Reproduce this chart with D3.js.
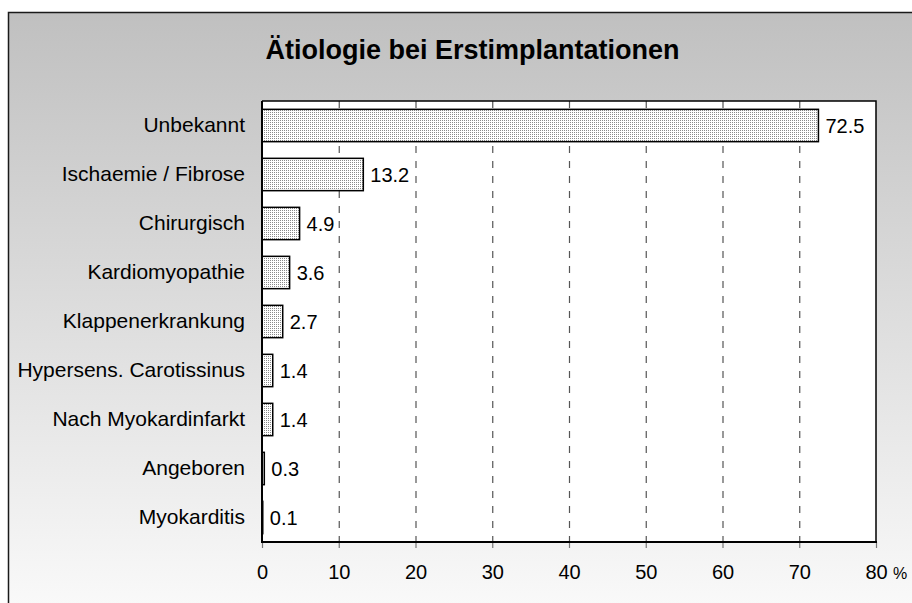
<!DOCTYPE html>
<html><head><meta charset="utf-8">
<script src="https://cdn.jsdelivr.net/npm/d3@7"></script>
<style>html,body{margin:0;padding:0;background:#fff;}svg{display:block;font-family:"Liberation Sans",Arial,sans-serif;}</style>
</head><body>
<script>
const categories = ["Unbekannt","Ischaemie / Fibrose","Chirurgisch","Kardiomyopathie","Klappenerkrankung","Hypersens. Carotissinus","Nach Myokardinfarkt","Angeboren","Myokarditis"];
const values = [72.5,13.2,4.9,3.6,2.7,1.4,1.4,0.3,0.1];
const valueLabels = ["72.5","13.2","4.9","3.6","2.7","1.4","1.4","0.3","0.1"];
const xTicks = [0,10,20,30,40,50,60,70,80];
const title = "Ätiologie bei Erstimplantationen";

const W = 912, H = 603;
const svg = d3.select("body").append("svg").attr("width", W).attr("height", H);
const defs = svg.append("defs");
const grad = defs.append("linearGradient").attr("id","bg").attr("x1",0).attr("y1",0).attr("x2",0).attr("y2",1);
grad.append("stop").attr("offset","0%").attr("stop-color","#c0c0c0");
grad.append("stop").attr("offset","100%").attr("stop-color","#fbfbfb");
const pat = defs.append("pattern").attr("id","dots").attr("width",2).attr("height",2).attr("patternUnits","userSpaceOnUse");
pat.append("rect").attr("width",2).attr("height",2).attr("fill","#ffffff");
pat.append("rect").attr("width",1).attr("height",1).attr("fill","#8a8a8a");

svg.append("rect").attr("x",0).attr("y",0).attr("width",W).attr("height",H).attr("fill","#fff");
svg.append("rect").attr("x",8.5).attr("y",12.5).attr("width",W+10).attr("height",H+10)
  .attr("fill","url(#bg)").attr("stroke","#1a1a1a").attr("stroke-width",1.5);

svg.append("text").attr("x",472.5).attr("y",59).attr("text-anchor","middle")
  .attr("font-size",27).attr("font-weight","bold").attr("fill","#000").text(title);

const L = 262, R = 876, T = 101, B = 542;
const x = d3.scaleLinear().domain([0,80]).range([L,R]);
const y = d3.scaleBand().domain(categories).range([T,B]).paddingInner(0.34).paddingOuter(0.17);

svg.append("rect").attr("x",L).attr("y",T).attr("width",R-L).attr("height",B-T).attr("fill","#fff");

// gridlines
svg.append("g").selectAll("line").data(xTicks.filter(d=>d>0&&d<80)).join("line")
  .attr("x1",d=>x(d)+0.5).attr("x2",d=>x(d)+0.5).attr("y1",T).attr("y2",B)
  .attr("stroke","#555").attr("stroke-width",1.2).attr("stroke-dasharray","7,8");

// plot border top/right
svg.append("path").attr("d",`M${L},${T}H${R}V${B}`).attr("fill","none").attr("stroke","#000").attr("stroke-width",1.5);

// bars
svg.append("g").selectAll("rect").data(values).join("rect")
  .attr("x",x(0)).attr("y",(d,i)=>y(categories[i])).attr("width",d=>x(d)-x(0)).attr("height",y.bandwidth())
  .attr("fill","url(#dots)").attr("stroke","#000").attr("stroke-width",1.5);

// value labels
svg.append("g").selectAll("text").data(values).join("text")
  .attr("x",d=>x(d)+7).attr("y",(d,i)=>y(categories[i])+y.bandwidth()/2).attr("dy","0.36em")
  .attr("font-size",20).attr("fill","#000").text((d,i)=>valueLabels[i]);

// x axis
const xAxis = svg.append("g").attr("transform",`translate(0,${B})`)
  .call(d3.axisBottom(x).tickValues(xTicks).tickSize(6).tickPadding(17).tickFormat(d3.format("d")));
xAxis.select(".domain").remove();
xAxis.selectAll(".tick line").attr("stroke","#777").attr("stroke-width",1.2);
xAxis.selectAll(".tick text").attr("font-size",20).attr("font-family","Liberation Sans, Arial, sans-serif").attr("fill","#000");
svg.append("text").attr("x",893).attr("y",579).attr("font-size",16).attr("fill","#000").text("%");

// y axis
const yAxis = svg.append("g").attr("transform",`translate(${L},0)`)
  .call(d3.axisLeft(y).tickSize(0).tickPadding(17));
yAxis.select(".domain").remove();
yAxis.selectAll(".tick text").attr("font-size",21).attr("font-family","Liberation Sans, Arial, sans-serif").attr("fill","#000");

svg.append("line").attr("x1",L).attr("x2",L).attr("y1",T).attr("y2",B+1).attr("stroke","#000").attr("stroke-width",2);
svg.append("line").attr("x1",L-1).attr("x2",R+1).attr("y1",B).attr("y2",B).attr("stroke","#000").attr("stroke-width",2);
</script>
</body></html>
